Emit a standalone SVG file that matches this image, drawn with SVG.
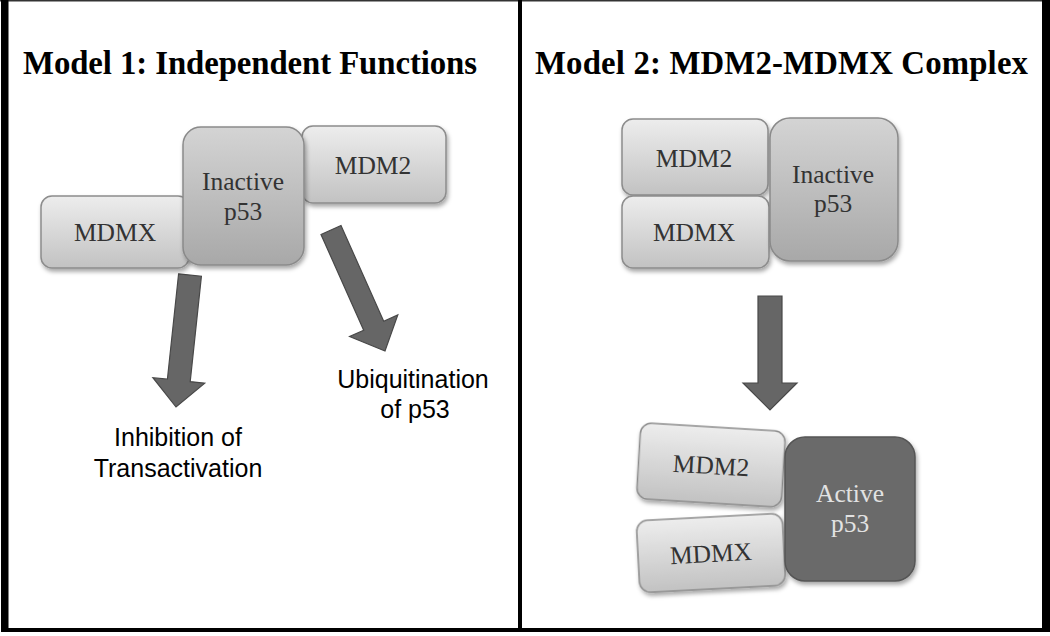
<svg xmlns="http://www.w3.org/2000/svg" width="1050" height="636" viewBox="0 0 1050 636">
<defs>
<linearGradient id="gLight" x1="0" y1="0" x2="0" y2="1">
<stop offset="0" stop-color="#ededed"/><stop offset="1" stop-color="#c2c2c2"/>
</linearGradient>
<linearGradient id="gMid" x1="0" y1="0" x2="0" y2="1">
<stop offset="0" stop-color="#d4d4d4"/><stop offset="1" stop-color="#a8a8a8"/>
</linearGradient>
<filter id="sh" x="-20%" y="-20%" width="140%" height="150%">
<feDropShadow dx="1.5" dy="3" stdDeviation="2" flood-color="#000" flood-opacity="0.35"/>
</filter>
</defs>
<style>
.light{fill:url(#gLight);stroke:#8c8c8c;stroke-width:1.5;filter:url(#sh)}
.mid{fill:url(#gMid);stroke:#8a8a8a;stroke-width:1.5;filter:url(#sh)}
.dark{fill:#6b6b6b;stroke:#555;stroke-width:1.5;filter:url(#sh)}
.nt{font-family:"Liberation Serif",serif;font-size:25.5px;fill:#333;text-anchor:middle}
.nw{font-family:"Liberation Serif",serif;font-size:25.5px;fill:#e2e2e2;text-anchor:middle}
.title{font-family:"Liberation Serif",serif;font-weight:bold;font-size:32.8px;fill:#000}
.lab{font-family:"Liberation Sans",Arial,sans-serif;font-size:25px;fill:#000;text-anchor:middle}
.arr{fill:#666;stroke:#484848;stroke-width:1.2;stroke-linejoin:miter}
</style>
<rect x="0" y="0" width="1050" height="636" fill="#fff"/>
<!-- frame -->
<rect x="0" y="0" width="1050" height="1.5" fill="#333"/>
<rect x="1" y="0" width="7.5" height="632" fill="#000"/>
<rect x="1042" y="0" width="8" height="632" fill="#000"/>
<rect x="1" y="628" width="1049" height="4" fill="#000"/>
<rect x="518" y="0" width="4" height="632" fill="#000"/>

<text class="title" x="23" y="74" textLength="454">Model 1: Independent Functions</text>
<text class="title" x="535" y="74" textLength="493">Model 2: MDM2-MDMX Complex</text>

<g id="connectors">
<polygon id="arrow1" class="arr" points="178.6,273.8 201.4,276.2 190.2,381.6 204.7,383.1 176,407 152.9,377.7 167.4,379.2"/>
<polygon id="arrow2" class="arr" points="321,234.5 341,225.5 383.7,321.2 397.8,314.9 385,351 349.6,336.5 363.7,330.2"/>
<polygon id="arrow3" class="arr" points="758,296 782,296 782,383 797,383 770,410 743,383 758,383"/>
</g>

<!-- Model 1 nodes -->
<g id="m1-mdmx">
<rect class="light" x="41" y="196" width="148" height="72" rx="11"/>
<text class="nt" x="115" y="241">MDMX</text>
</g>
<g id="m1-mdm2">
<rect class="light" x="302" y="126" width="144" height="77" rx="11"/>
<text class="nt" x="373" y="174">MDM2</text>
</g>
<g id="m1-p53">
<rect class="mid" x="183" y="127" width="121" height="138" rx="18"/>
<text class="nt" x="243" y="190">Inactive</text>
<text class="nt" x="243" y="220">p53</text>
</g>
<g id="m1-inhibition">
<text class="lab" x="178" y="446">Inhibition of</text>
<text class="lab" x="178" y="477">Transactivation</text>
</g>
<g id="m1-ubiquitination">
<text class="lab" x="413" y="388">Ubiquitination</text>
<text class="lab" x="415" y="418">of p53</text>
</g>

<!-- Model 2 nodes -->
<g id="m2-mdm2-top">
<rect class="light" x="622" y="119" width="146" height="76" rx="11"/>
<text class="nt" x="694" y="167">MDM2</text>
</g>
<g id="m2-mdmx-top">
<rect class="light" x="622" y="196" width="147" height="72" rx="11"/>
<text class="nt" x="694" y="241">MDMX</text>
</g>
<g id="m2-p53-inactive">
<rect class="mid" x="770" y="118" width="128" height="143" rx="20"/>
<text class="nt" x="833" y="183">Inactive</text>
<text class="nt" x="833" y="212">p53</text>
</g>
<g id="m2-mdm2-bottom" transform="rotate(3.5 711 465)">
<rect class="light" x="638.5" y="427" width="145" height="76" rx="11"/>
<text class="nt" x="711" y="474">MDM2</text>
</g>
<g id="m2-mdmx-bottom" transform="rotate(-3 711 553)">
<rect class="light" x="638" y="517" width="146" height="72" rx="11"/>
<text class="nt" x="711" y="562">MDMX</text>
</g>
<g id="m2-p53-active">
<rect class="dark" x="785" y="437" width="130" height="144" rx="20"/>
<text class="nw" x="850" y="502">Active</text>
<text class="nw" x="850" y="532">p53</text>
</g>
</svg>
